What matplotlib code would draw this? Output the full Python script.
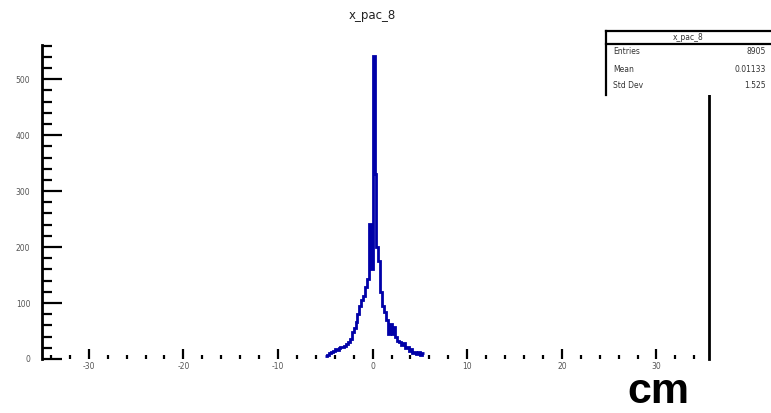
import numpy as np
import matplotlib
matplotlib.use("Agg")
import matplotlib.pyplot as plt
from matplotlib.lines import Line2D
from matplotlib.patches import Rectangle

# ---- data ----
bin_lo = -5.0
bin_width = 0.2
counts = [5, 8, 10, 12, 15, 18, 16, 20, 22, 21, 24, 27, 30, 36, 48, 55, 66, 80, 95,
          105, 112, 128, 143, 241, 160, 541, 330, 200, 175, 120, 95, 84, 70, 45, 62,
          44, 58, 40, 32, 30, 25, 28, 20, 22, 14, 18, 10, 12, 9, 12, 8, 10]
x_ticks = [-30, -20, -10, 0, 10, 20, 30]
y_ticks = [0, 100, 200, 300, 400, 500]
title = "x_pac_8"
stats_name = "x_pac_8"
stats_labels = ["Entries", "Mean", "Std Dev"]
stats_values = ["8905", "0.01133", "1.525"]
unit_label = "cm"

edges = bin_lo + bin_width * np.arange(len(counts) + 1)

W, H = 771, 413
fig = plt.figure(figsize=(W / 100, H / 100), dpi=100)
fig.patch.set_facecolor("white")

left, right, bottom, top = 41.5, 708.5, 359, 45
ax = fig.add_axes([left / W, (H - bottom) / H, (right - left) / W, (bottom - top) / H])
ax.stairs(counts, edges, color="#0000a8", lw=2.0, baseline=None)

ax.set_xlim(-35, 35.5)
ax.set_ylim(0, 561)

for s in ["top", "bottom"]:
    ax.spines[s].set_visible(False)
ax.spines["left"].set_linewidth(2.0)
ax.spines["right"].set_linewidth(2.0)

ax.set_xticks(x_ticks)
ax.set_xticklabels([str(v) for v in x_ticks])
ax.set_xticks(np.arange(-34, 35, 2), minor=True)
ax.set_yticks(y_ticks)
ax.set_yticklabels([str(v) for v in y_ticks])
ax.set_yticks(np.arange(0, 561, 20), minor=True)

ax.tick_params(axis="x", which="major", direction="in", length=7.5, width=1.6,
               labelsize=5.5, labelcolor="#555555", pad=2, top=False)
ax.tick_params(axis="x", which="minor", direction="in", length=3, width=1.6, top=False)
ax.tick_params(axis="y", which="major", direction="in", length=14.5, width=1.6,
               labelsize=5.5, labelcolor="#555555", pad=8, right=False)
ax.tick_params(axis="y", which="minor", direction="in", length=7, width=1.6, right=False)

fig.text(372 / W, 1 - 15 / H, title, ha="center", va="center", fontsize=8.5,
         color="#222222")

# stats box
def fx(x):
    return x / W

def fy(y):
    return 1 - y / H

fig.add_artist(Rectangle((fx(606), fy(95)), fx(771) - fx(606), fy(31) - fy(95),
                         transform=fig.transFigure, facecolor="white",
                         edgecolor="none", zorder=5))
lw = 1.6
fig.add_artist(Line2D([fx(606), fx(771)], [fy(31), fy(31)], color="black", lw=lw, zorder=6))
fig.add_artist(Line2D([fx(606), fx(771)], [fy(44), fy(44)], color="black", lw=lw, zorder=6))
fig.add_artist(Line2D([fx(606), fx(606)], [fy(31), fy(95)], color="black", lw=lw, zorder=6))
fig.text(fx(688), fy(37.5), stats_name, ha="center", va="center", fontsize=5.5,
         color="#333333", zorder=7)
for i, (lab, val) in enumerate(zip(stats_labels, stats_values)):
    yy = [52, 70, 85][i]
    fig.text(fx(613), fy(yy), lab, ha="left", va="center", fontsize=5.5,
             color="#333333", zorder=7)
    fig.text(fx(766), fy(yy), val, ha="right", va="center", fontsize=5.5,
             color="#333333", zorder=7)

fig.text(fx(658), fy(392), unit_label, ha="center", va="center", fontsize=31,
         fontweight="bold", family="Liberation Sans", color="black")

fig.savefig("out.png", dpi=100)
